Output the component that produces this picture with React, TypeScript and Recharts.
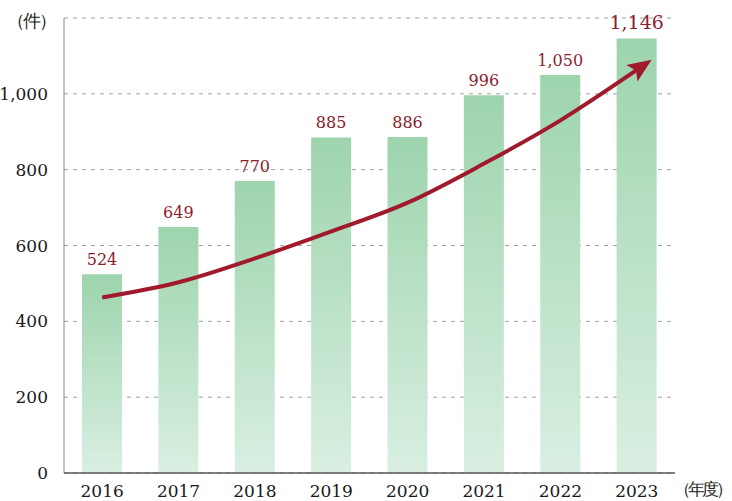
import React from "react";
import { ComposedChart, Bar, Line, XAxis, YAxis, CartesianGrid, LabelList } from "recharts";

const years = ["2016", "2017", "2018", "2019", "2020", "2021", "2022", "2023"];
const counts = [524, 649, 770, 885, 886, 996, 1050, 1146];
const trend = [463, 503, 566, 637, 713, 816, 930, 1063];
const yTicks = [0, 200, 400, 600, 800, 1000];

const data = years.map((y, i) => ({ year: y, count: counts[i], trend: trend[i] }));

const fmt = (v: number) => v.toLocaleString("en-US");
const serif = "'DejaVu Serif', 'Liberation Serif', serif";

const renderLabel = (props: any) => {
  const { x, y, width, value } = props;
  const big = value === counts[counts.length - 1];
  return (
    <text
      x={x + width / 2}
      y={y - 9}
      textAnchor="middle"
      fill="#8c1d2c"
      fontFamily={serif}
      fontSize={big ? 19 : 16}
    >
      {fmt(value)}
    </text>
  );
};

export default function App() {
  return (
    <div style={{ position: "absolute", left: 0, top: 0, width: 732, height: 501, background: "#fff", overflow: "hidden" }}>
      <ComposedChart
        width={732}
        height={501}
        data={data}
        margin={{ top: 18, right: 57, bottom: 0, left: 0 }}
      >
        <defs>
          <linearGradient id="barGrad" x1="0" y1="0" x2="0" y2="1">
            <stop offset="0%" stopColor="#9dd4ad" />
            <stop offset="100%" stopColor="#d9efe2" />
          </linearGradient>
          <marker
            id="arrowHead"
            viewBox="0 0 24 20"
            refX="6"
            refY="10"
            markerWidth="24"
            markerHeight="20"
            markerUnits="userSpaceOnUse"
            orient="auto"
          >
            <path d="M0,0 L24,10 L0,20 L5,10 Z" fill="#a01a2b" />
          </marker>
        </defs>
        <CartesianGrid
          horizontal
          vertical={false}
          stroke="#a0a0a0"
          strokeDasharray="4 5"
        />
        <XAxis
          dataKey="year"
          height={28}
          tickLine={false}
          axisLine={{ stroke: "#555", strokeWidth: 1.5 }}
          tick={{ fill: "#1a1a1a", fontFamily: serif, fontSize: 17 }}
          tickMargin={6}
          interval={0}
        />
        <YAxis
          width={64}
          domain={[0, 1200]}
          ticks={yTicks}
          tickFormatter={fmt}
          tickLine={false}
          axisLine={{ stroke: "#888", strokeWidth: 1 }}
          tick={{ fill: "#1a1a1a", fontFamily: serif, fontSize: 17 }}
          tickMargin={10}
        />
        <Bar dataKey="count" fill="url(#barGrad)" barSize={40} isAnimationActive={false}>
          <LabelList dataKey="count" content={renderLabel} />
        </Bar>
        <Line
          dataKey="trend"
          type="monotone"
          stroke="#a01a2b"
          strokeWidth={4}
          dot={false}
          activeDot={false}
          markerEnd="url(#arrowHead)"
          isAnimationActive={false}
        />
      </ComposedChart>
      <div
        style={{
          position: "absolute",
          left: 7,
          top: 9,
          fontFamily: serif,
          fontSize: 18,
          letterSpacing: -2,
          whiteSpace: "nowrap",
          color: "#222",
        }}
      >
        （件）
      </div>
      <div
        style={{
          position: "absolute",
          left: 674,
          top: 478,
          fontFamily: serif,
          fontSize: 17,
          letterSpacing: -3,
          whiteSpace: "nowrap",
          color: "#222",
        }}
      >
        （年度）
      </div>
    </div>
  );
}
